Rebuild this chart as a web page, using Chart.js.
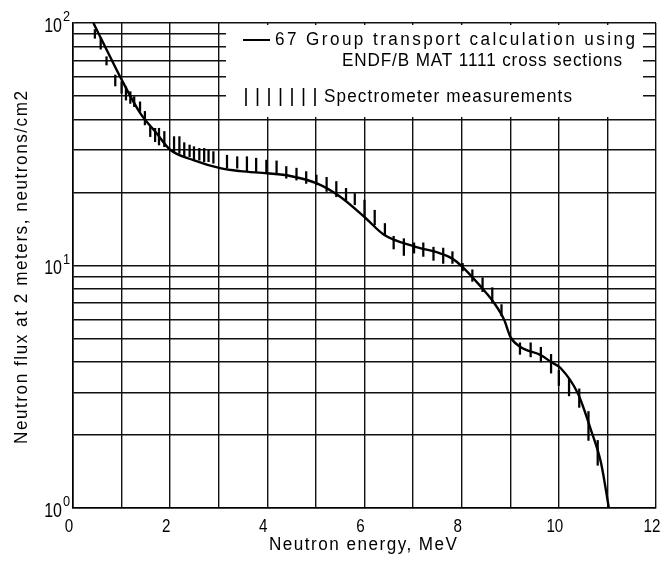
<!DOCTYPE html>
<html>
<head>
<meta charset="utf-8">
<script src="https://cdn.jsdelivr.net/npm/chart.js@4.4.1/dist/chart.umd.min.js"></script>
<style>
  html, body { margin: 0; padding: 0; background: #fff; }
  canvas { display: block; }
</style>
</head>
<body>
<canvas id="c" width="664" height="567" style="width:664px;height:567px"></canvas>
<script>
// ---- data ----
const calcEnergy = [0.42, 0.70, 0.97, 1.38, 1.72, 2.00, 2.48, 3.03, 3.44, 4.00, 4.47, 5.02, 5.50, 6.02, 6.40, 7.02, 7.57, 7.80, 8.01, 8.39, 8.67, 8.87, 9.01, 9.22, 9.63, 9.84, 10.04, 10.39, 10.66, 10.87, 11.03];
const calcFlux   = [100, 77, 60, 42.6, 35.1, 30.0, 27.2, 25.2, 24.5, 24.0, 23.4, 21.8, 19.2, 15.7, 13.4, 12.0, 11.2, 10.7, 9.9, 8.2, 7.0, 6.0, 5.05, 4.6, 4.27, 4.0, 3.77, 2.97, 2.10, 1.53, 1.0];

const measEnergy = [0.45, 0.57, 0.69, 0.87, 1.00, 1.09, 1.18, 1.26, 1.38, 1.48, 1.59, 1.69, 1.77, 1.88, 2.08, 2.19, 2.29, 2.40, 2.49, 2.60, 2.70, 2.79, 2.89, 3.17, 3.38, 3.58, 3.77, 3.98, 4.19, 4.39, 4.60, 4.80, 5.01, 5.22, 5.42, 5.62, 5.80, 6.00, 6.21, 6.42, 6.60, 6.81, 7.02, 7.21, 7.42, 7.62, 7.81, 8.02, 8.22, 8.43, 8.63, 8.82, 9.20, 9.42, 9.63, 9.84, 10.00, 10.21, 10.42, 10.61, 10.80];
const measLow    = [86.5, 78.0, 67.1, 55.0, 51.3, 48.1, 46.6, 45.2, 43.2, 38.0, 34.0, 32.4, 31.4, 30.9, 29.5, 29.0, 28.1, 28.1, 27.2, 27.2, 26.8, 26.8, 26.4, 25.2, 25.2, 24.6, 24.4, 24.0, 23.8, 22.9, 22.5, 21.8, 21.5, 20.2, 19.2, 18.6, 17.8, 15.9, 14.7, 13.3, 11.7, 11.0, 11.25, 10.9, 10.5, 10.2, 10.2, 9.5, 8.6, 7.8, 7.0, 6.2, 4.3, 4.2, 4.0, 3.6, 3.2, 2.9, 2.6, 1.9, 1.5];
const measHigh   = [94.0, 86.5, 72.6, 61.0, 57.3, 54.6, 52.1, 49.7, 47.3, 43.2, 37.4, 36.8, 36.8, 35.7, 34.0, 34.0, 32.1, 31.4, 30.9, 30.4, 30.4, 29.9, 29.5, 28.5, 28.1, 28.1, 27.7, 27.2, 27.0, 25.6, 25.2, 24.4, 23.6, 23.1, 22.2, 20.8, 19.8, 18.6, 16.9, 14.9, 13.2, 12.9, 12.4, 12.4, 11.9, 11.8, 11.4, 10.2, 9.6, 8.9, 8.1, 6.9, 4.8, 4.8, 4.6, 4.3, 3.7, 3.4, 3.1, 2.5, 1.9];

const xGridValues  = [0,1,2,3,4,5,6,7,8,9,10,11,12];
const xLabelValues = [0,2,4,6,8,10,12];
const yGridValues  = [1,2,3,4,5,6,7,8,9,10,20,30,40,50,60,70,80,90,100];
const yLabelValues = [1,10,100];
const yLabelBase   = '10';
const yLabelExps   = ['0','1','2'];

const xTitle = 'Neutron energy, MeV';
const yTitle = 'Neutron flux at 2 meters, neutrons/cm2';
const legendCalc1 = '67 Group transport calculation using';
const legendCalc2 = 'ENDF/B MAT 1111 cross sections';
const legendMeas  = 'Spectrometer measurements';

// ---- styling ----
const FAMILY = "'Liberation Sans', Arial, sans-serif";
const INK = '#000';

// draw text with horizontal condensing; optional target width (letter-spaced), align 'left'|'center'|'right'
function drawText(ctx, text, x, y, size, hs, targetW, align) {
  ctx.save();
  ctx.font = size + 'px ' + FAMILY;
  ctx.fillStyle = INK;
  ctx.textAlign = 'left';
  ctx.textBaseline = 'middle';
  const hasLS = 'letterSpacing' in ctx;
  if (hasLS) ctx.letterSpacing = '0px';
  const w = ctx.measureText(text).width;
  let finalW = w * hs;
  let extraScale = 1;
  let lsUnscaled = 0;
  if (targetW) {
    const lsFinal = (targetW - w * hs) / Math.max(1, text.length - 1);
    if (lsFinal >= 0 && hasLS) {
      lsUnscaled = lsFinal / hs;
    } else {
      extraScale = targetW / (w * hs);
    }
    finalW = targetW;
  }
  let x0 = x;
  if (align === 'center') x0 = x - finalW / 2;
  else if (align === 'right') x0 = x - finalW;
  ctx.translate(x0, y);
  ctx.scale(hs * extraScale, 1);
  if (hasLS && lsUnscaled) ctx.letterSpacing = lsUnscaled + 'px';
  ctx.fillText(text, 0, 0);
  ctx.restore();
}

const paperPlugin = {
  id: 'paper',
  beforeDatasetsDraw(chart) {
    const ctx = chart.ctx;
    ctx.save();
    ctx.fillStyle = '#fff';
    ctx.fillRect(226, 25, 417, 92);
    ctx.restore();
  },
  afterDraw(chart) {
    const ctx = chart.ctx;
    const ca = chart.chartArea;
    const ys = chart.scales.y;
    const xs = chart.scales.x;

    // x tick labels
    xLabelValues.forEach(v => {
      drawText(ctx, String(v), xs.getPixelForValue(v) - 4, ca.bottom + 19, 19, 0.8, 0, 'center');
    });

    // y tick labels with superscript exponents
    yLabelValues.forEach((v, i) => {
      const py = ys.getPixelForValue(v);
      drawText(ctx, yLabelBase, ca.left - 11, py + 3, 20, 0.8, 0, 'right');
      drawText(ctx, yLabelExps[i], ca.left - 10, py - 6, 15, 0.85, 0, 'left');
    });

    // axis titles
    drawText(ctx, xTitle, 363, 545, 18, 0.95, 188, 'center');
    ctx.save();
    ctx.translate(22, (ca.top + ca.bottom) / 2 + 2);
    ctx.rotate(-Math.PI / 2);
    drawText(ctx, yTitle, 0, 0, 18, 0.95, 353, 'center');
    ctx.restore();

    // legend
    ctx.save();
    ctx.strokeStyle = INK;
    ctx.lineWidth = 2;
    ctx.beginPath();
    ctx.moveTo(243, 40);
    ctx.lineTo(270, 40);
    ctx.stroke();
    ctx.lineWidth = 1.6;
    for (let i = 0; i < 7; i++) {
      const bx = 246 + i * 11.5;
      ctx.beginPath();
      ctx.moveTo(bx, 88);
      ctx.lineTo(bx, 106);
      ctx.stroke();
    }
    ctx.restore();
    drawText(ctx, legendCalc1, 275, 40, 18, 0.95, 360, 'left');
    drawText(ctx, legendCalc2, 342, 61, 18, 0.95, 280, 'left');
    drawText(ctx, legendMeas, 324, 97, 18, 0.95, 248, 'left');
  }
};

const gridStyle = { color: '#111', lineWidth: 1.4, drawTicks: false, offset: false };
const borderStyle = { color: '#000', width: 1.6 };

new Chart(document.getElementById('c'), {
  type: 'line',
  data: {
    datasets: [
      {
        type: 'line',
        label: 'calc',
        data: calcEnergy.map((e, i) => ({ x: e, y: calcFlux[i] })),
        borderColor: INK,
        borderWidth: 2.4,
        pointRadius: 0,
        fill: false,
        cubicInterpolationMode: 'monotone',
        order: 1
      },
      {
        type: 'bar',
        label: 'meas',
        data: measEnergy.map((e, i) => ({ x: e, y: [measLow[i], measHigh[i]] })),
        backgroundColor: INK,
        borderWidth: 0,
        barThickness: 1.6,
        grouped: false,
        order: 2
      }
    ]
  },
  options: {
    animation: false,
    responsive: false,
    devicePixelRatio: 1,
    layout: { padding: { top: 23, right: 8, left: 0, bottom: 0 } },
    plugins: { legend: { display: false }, tooltip: { enabled: false } },
    scales: {
      x: {
        type: 'linear',
        min: 0, max: 12,
        offset: false,
        grid: gridStyle,
        border: borderStyle,
        ticks: { display: false, stepSize: 1 },
        afterBuildTicks: s => { s.ticks = xGridValues.map(v => ({ value: v })); },
        afterFit: s => { s.height = 59; }
      },
      y: {
        type: 'logarithmic',
        min: 1, max: 100,
        grid: gridStyle,
        border: borderStyle,
        ticks: { display: false },
        afterBuildTicks: s => { s.ticks = yGridValues.map(v => ({ value: v })); },
        afterFit: s => { s.width = 73; }
      }
    }
  },
  plugins: [paperPlugin]
});
</script>
</body>
</html>
